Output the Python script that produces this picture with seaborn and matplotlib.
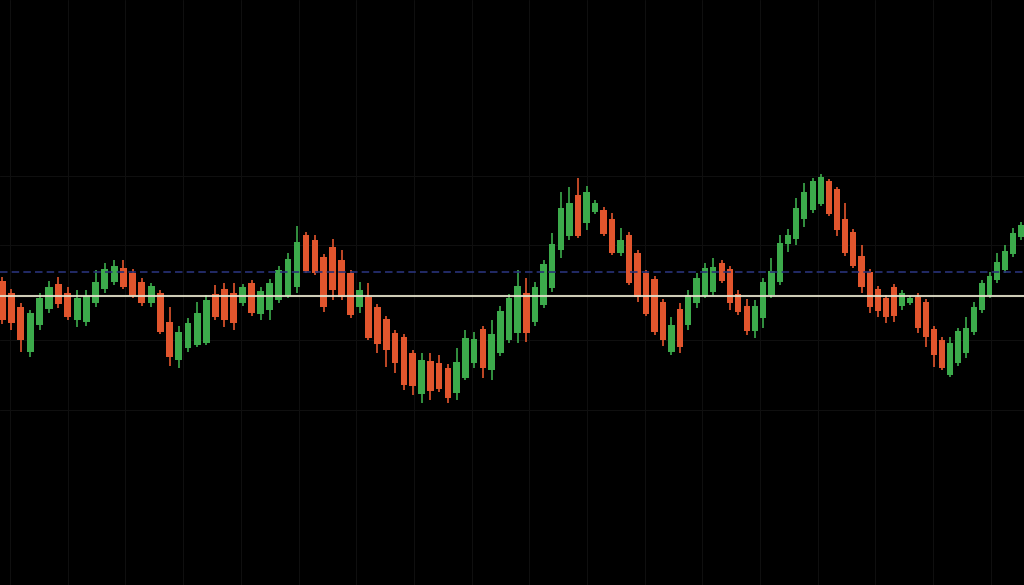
import numpy as np
import pandas as pd
import seaborn as sns
import matplotlib
matplotlib.use("Agg")
import matplotlib.pyplot as plt

# candle values (price units)
open_ = [31.9, 30.7, 29.3, 24.8, 27.5, 29.1, 31.6, 30.7, 28.0, 27.8,
         29.7, 31.1, 31.8, 33.2, 32.7, 31.8, 29.7, 30.7, 27.8, 24.0,
         25.2, 25.5, 25.7, 30.6, 31.1, 30.7, 29.7, 31.7, 28.6, 29.0,
         30.0, 30.4, 31.3, 36.5, 36.0, 34.3, 35.3, 34.0, 32.7, 29.3,
         30.3, 29.3, 28.1, 26.7, 26.3, 24.7, 20.6, 23.9, 23.7, 23.2,
         20.7, 22.2, 23.7, 27.1, 23.0, 24.7, 26.0, 26.7, 30.7, 27.8,
         29.5, 31.2, 35.0, 36.4, 40.5, 37.7, 38.8, 39.0, 38.1, 34.7,
         36.5, 34.7, 32.7, 32.1, 29.8, 24.8, 29.1, 27.5, 29.7, 30.4,
         30.8, 33.7, 33.1, 30.6, 29.4, 26.9, 28.2, 30.5, 31.8, 35.6,
         36.1, 38.1, 39.0, 39.6, 41.9, 41.1, 38.1, 36.8, 34.4, 32.8,
         31.1, 30.2, 31.3, 29.4, 29.7, 30.3, 29.8, 27.1, 26.0, 22.5,
         23.7, 24.7, 26.8, 29.0, 30.5, 32.0, 33.0, 34.6, 36.3]
high = [32.3, 31.1, 29.7, 29.0, 30.7, 31.9, 32.3, 31.3, 31.0, 31.0,
        33.0, 33.7, 34.0, 34.0, 33.1, 32.2, 31.7, 31.0, 29.3, 27.4,
        28.2, 29.8, 30.5, 31.5, 31.7, 31.7, 31.6, 32.0, 31.3, 32.1,
        33.4, 34.7, 37.4, 36.8, 36.5, 34.6, 36.1, 35.0, 33.0, 31.8,
        31.7, 29.6, 28.4, 27.0, 26.6, 25.0, 24.7, 24.7, 24.5, 23.6,
        25.2, 27.0, 26.8, 27.4, 28.0, 29.4, 30.6, 33.0, 32.2, 31.8,
        34.0, 36.7, 40.8, 41.3, 42.2, 41.4, 40.0, 39.3, 38.7, 37.2,
        36.8, 35.0, 33.0, 32.4, 30.1, 28.3, 29.7, 31.0, 32.7, 33.7,
        34.2, 34.0, 33.4, 31.0, 30.1, 30.0, 32.2, 34.2, 36.5, 37.1,
        40.2, 41.7, 42.2, 42.6, 42.1, 41.3, 39.7, 37.1, 35.5, 33.1,
        31.4, 30.5, 31.6, 31.0, 30.4, 30.7, 30.1, 27.4, 26.3, 26.3,
        27.2, 28.3, 29.8, 32.0, 32.8, 34.7, 35.5, 37.2, 37.8]
low = [27.6, 27.0, 24.8, 24.3, 27.0, 28.7, 29.2, 28.0, 27.3, 27.4,
       29.3, 30.7, 31.5, 31.1, 30.2, 29.4, 29.3, 26.6, 23.4, 23.2,
       24.8, 25.3, 25.5, 28.0, 27.3, 27.0, 29.4, 28.4, 28.0, 28.0,
       29.7, 30.2, 30.7, 32.7, 32.5, 28.8, 30.0, 30.0, 28.2, 28.7,
       26.0, 24.7, 23.3, 22.7, 21.0, 20.5, 19.7, 20.0, 20.8, 19.7,
       20.0, 22.0, 23.2, 22.2, 22.0, 24.4, 25.7, 25.7, 25.8, 27.4,
       29.2, 30.8, 34.2, 36.0, 36.2, 37.0, 38.6, 36.4, 34.5, 34.4,
       31.5, 29.8, 28.4, 26.5, 25.4, 24.5, 24.7, 27.0, 29.2, 30.2,
       30.5, 31.7, 29.0, 28.5, 26.5, 26.2, 27.2, 30.2, 31.5, 34.8,
       35.5, 37.3, 38.7, 39.4, 38.4, 36.4, 34.4, 33.2, 30.7, 28.7,
       28.3, 27.7, 27.8, 29.0, 29.5, 26.7, 25.3, 23.3, 23.0, 22.3,
       23.4, 24.2, 26.5, 28.7, 30.2, 31.7, 32.7, 34.3, 36.0]
close = [28.0, 27.7, 26.0, 28.7, 30.2, 31.3, 29.6, 28.3, 30.2, 30.4,
         31.8, 33.1, 33.4, 31.3, 30.4, 29.7, 31.4, 26.8, 24.3, 26.8,
         27.7, 28.7, 30.0, 28.3, 28.0, 27.7, 31.3, 28.7, 30.9, 31.7,
         33.0, 34.1, 35.8, 32.9, 32.7, 29.3, 31.0, 30.3, 28.5, 31.0,
         26.2, 25.6, 25.0, 23.7, 21.5, 21.4, 24.0, 20.9, 21.1, 20.2,
         23.8, 26.2, 26.1, 23.2, 26.6, 28.9, 30.2, 31.4, 26.7, 31.3,
         33.6, 35.6, 39.2, 39.7, 36.4, 40.8, 39.7, 36.6, 34.7, 36.0,
         31.7, 30.3, 28.6, 26.8, 26.0, 27.5, 25.3, 30.5, 32.2, 33.2,
         33.3, 31.9, 29.7, 28.8, 26.9, 29.4, 31.8, 32.9, 35.7, 36.5,
         39.2, 40.8, 41.9, 42.3, 38.6, 37.0, 34.7, 33.4, 31.3, 29.3,
         28.9, 28.3, 28.4, 30.7, 30.2, 27.2, 26.3, 24.5, 23.2, 25.7,
         26.9, 27.2, 29.3, 31.7, 32.4, 33.8, 34.9, 36.7, 37.5]

base_level = 30.4      # solid light line
ref_level = 32.8       # dashed blue line
grid_levels = [42.4, 35.5, 26.0, 19.0]

df = pd.DataFrame({"open": open_, "high": high, "low": low, "close": close})
df["t"] = np.arange(len(df))
df["dir"] = np.where(df["close"] >= df["open"], "up", "down")
df["bottom"] = df[["open", "close"]].min(axis=1)
df["body"] = (df["close"] - df["open"]).abs()

palette = {"up": "#3caa4b", "down": "#e1552d"}

sns.set_theme(style="dark", rc={"axes.facecolor": "black",
                                "figure.facecolor": "black",
                                "grid.color": "#0f0f0f",
                                "grid.linewidth": 0.8})

# the screenshot is a bit squeezed towards the right edge
b, c = 9.432, -0.00675


def fwd(x):
    return b * x + c * np.asarray(x) ** 2


def inv(y):
    y = np.minimum(np.asarray(y, dtype=float), b * b / (-4 * c) - 1e-6)
    return (-b + np.sqrt(b * b + 4 * c * y)) / (2 * c)


fig = plt.figure(figsize=(10.24, 5.85), dpi=100)
ax = fig.add_axes([0, 0, 1, 1])
ax.set_xscale("function", functions=(fwd, inv))

colors = df["dir"].map(palette)
ax.vlines(df["t"], df["low"], df["high"], colors=colors, linewidth=1.2, zorder=2)
ax.bar(df["t"], df["body"], bottom=df["bottom"], width=0.75,
       color=colors, linewidth=0, zorder=3)

ax.axhline(ref_level, color="#283278", linewidth=1.2, linestyle=(0, (4.5, 2.5)), zorder=4)
ax.axhline(base_level, color="#e6e3cc", linewidth=1.5, alpha=0.9, zorder=4)

ax.set_xlim(inv(-2), inv(1022))
ax.set_ylim(1.5, 60.0)
ax.set_xticks(inv(np.arange(10, 1024, 57.7) - 2))
ax.set_yticks(grid_levels)
ax.grid(True, zorder=0)
ax.tick_params(labelbottom=False, labelleft=False, length=0)
for s in ax.spines.values():
    s.set_visible(False)

fig.savefig("out.png", dpi=100, facecolor="black")
